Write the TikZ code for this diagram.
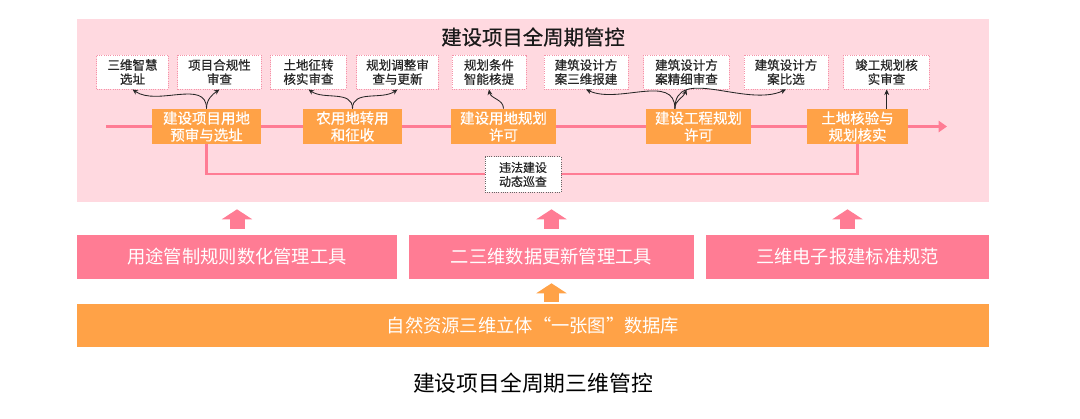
\documentclass[tikz,border=0pt]{standalone}
\usepackage{fontspec}
\setmainfont{Noto Sans CJK SC}
\newfontfamily\heavycjk[FakeBold=0.6]{Noto Sans CJK SC}
\usepackage{xcolor}
\usetikzlibrary{arrows.meta}

\definecolor{panelpink}{HTML}{FFD9E0}
\definecolor{toolpink}{HTML}{FF7C94}
\definecolor{stageorange}{HTML}{FFA247}
\definecolor{dotpink}{HTML}{F592A8}

\begin{document}
\begin{tikzpicture}[x=0.025cm, y=-0.025cm,
  note/.style={draw=dotpink, densely dotted, semithick, fill=white, minimum height=0.85cm, inner sep=1pt, align=center, text=black!85, font=\heavycjk\fontsize{8.9}{10}\selectfont},
  stage/.style={fill=stageorange, text=white, minimum height=0.88cm, inner sep=1pt, align=center, font=\heavycjk\fontsize{10.3}{12}\selectfont},
  tool/.style={fill=toolpink, text=white, minimum height=1.1cm, inner sep=1pt, font=\fontsize{13}{15}\selectfont},
  fork/.style={-{Stealth[length=4pt,width=3.5pt]}, semithick, black!85},
  bigup/.style={line width=0.375cm, -{Triangle[length=0.25cm,width=0.75cm]}}]

\useasboundingbox (0,0) rectangle (1080,419);

% panel
\node[fill=panelpink, minimum width=22.8cm, minimum height=4.575cm, inner sep=0] (panel) at (533,110.5) {};
\node[font=\heavycjk\fontsize{14.5}{16}\selectfont, text=black!90] (title) at (533,37) {建设项目全周期管控};

% main line
\coordinate (lstart) at (106,126.5);
\coordinate (lend) at (947,126.5);
\draw[toolpink, line width=2.8pt, -{Triangle[length=6pt,width=8pt]}] (lstart) -- (lend);

% stages
\node[stage, minimum width=2.73cm] (o1) at (206.5,126.5) {建设项目用地\\预审与选址};
\node[stage, minimum width=2.48cm] (o2) at (352.5,126.5) {农用地转用\\和征收};
\node[stage, minimum width=2.63cm] (o3) at (503.5,126.5) {建设用地规划\\许可};
\node[stage, minimum width=2.63cm] (o4) at (698.5,126.5) {建设工程规划\\许可};
\node[stage, minimum width=2.53cm] (o5) at (857.5,126.5) {土地核验与\\规划核实};

% notes
\node[note, minimum width=1.78cm] (b1) at (132.5,72) {三维智慧\\选址};
\node[note, minimum width=2.08cm] (b2) at (219.5,72) {项目合规性\\审查};
\node[note, minimum width=1.88cm] (b3) at (308.5,72) {土地征转\\核实审查};
\node[note, minimum width=2.03cm] (b4) at (397.5,72) {规划调整审\\查与更新};
\node[note, minimum width=1.85cm] (b5) at (489,72) {规划条件\\智能核提};
\node[note, minimum width=2.10cm] (b6) at (586,72) {建筑设计方\\案三维报建};
\node[note, minimum width=2.13cm] (b7) at (686.5,72) {建筑设计方\\案精细审查};
\node[note, minimum width=2.10cm] (b8) at (786,72) {建筑设计方\\案比选};
\node[note, minimum width=2.13cm] (b9) at (886.5,72) {竣工规划核\\实审查};

\draw[fork] (o1.north) to[out=90, in=-35] (b1.south);
\draw[fork] (o1.north) to[out=90, in=-145] (b2.south);
\draw[fork] (o2.north) to[out=90, in=-35] (b3.south);
\draw[fork] (o2.north) to[out=90, in=-145] (b4.south);
\draw[fork] (o3.north) to[out=90, in=-80] (b5.south);
\draw[fork] ([xshift=-0.59cm]o4.north) to[out=90, in=-25] (b6.south);
\draw[fork] ([xshift=-0.59cm]o4.north) to[out=90, in=-110] (b7.south);
\draw[fork] ([xshift=-0.59cm]o4.north) to[out=90, in=-155] (b8.south);
\draw[fork] ([xshift=0.73cm]o5.north) -- ([xshift=0.73cm]o5.north |- b9.south);

% patrol loop
\draw[toolpink, line width=2pt] (o1.south) |- (857,174) -| (o5.south);
\node[note, draw=black!60, minimum width=1.9cm, minimum height=0.88cm, font=\heavycjk\fontsize{8.5}{10}\selectfont] (patrol) at (523,174.5) {违法建设\\动态巡查};

% tools
\node[tool, minimum width=8cm] (p1) at (237,257) {用途管制规则数化管理工具};
\node[tool, minimum width=7.13cm] (p2) at (551.5,257) {二三维数据更新管理工具};
\node[tool, minimum width=7.08cm] (p3) at (847.5,257) {三维电子报建标准规范};
\node[tool, fill=stageorange, minimum width=22.8cm, minimum height=1.08cm] (db) at (533,325.5) {自然资源三维立体“一张图”数据库};

\draw[bigup, toolpink, shorten <=0.15cm, shorten >=0.175cm] (p1.north) -- (p1.north |- panel.south);
\draw[bigup, toolpink, shorten <=0.15cm, shorten >=0.175cm] (p2.north) -- (p2.north |- panel.south);
\draw[bigup, toolpink, shorten <=0.15cm, shorten >=0.175cm] (p3.north) -- (p3.north |- panel.south);
\draw[bigup, stageorange, shorten <=0.05cm, shorten >=0.1cm] (db.north -| p2) -- (p2.south);

\node[font=\fontsize{15.5}{18}\selectfont] (caption) at (533,383) {建设项目全周期三维管控};

\end{tikzpicture}
\end{document}
